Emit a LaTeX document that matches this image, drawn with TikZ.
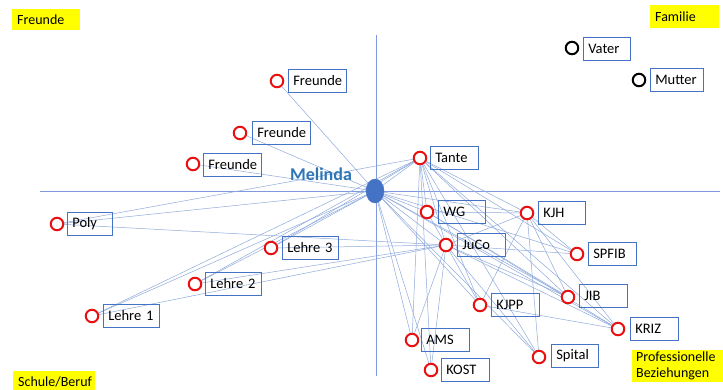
\documentclass[tikz,border=0pt]{standalone}
\usepackage{fontspec}
\setmainfont{Carlito}
\usetikzlibrary{backgrounds,shapes.geometric}
\definecolor{edgec}{RGB}{143,170,220}
\definecolor{boxc}{RGB}{68,114,196}
\definecolor{redc}{RGB}{232,16,16}
\definecolor{melc}{RGB}{68,114,196}
\definecolor{meltext}{RGB}{46,117,182}
\definecolor{tagc}{RGB}{255,255,0}
\begin{document}
\begin{tikzpicture}[x=1pt,y=-1pt,
  ring/.style={circle,draw=redc,line width=2pt,fill=white,minimum size=12.5pt,inner sep=0pt},
  bring/.style={ring,draw=black},
  box/.style={draw=boxc,line width=0.6pt,anchor=west,inner xsep=5pt,inner ysep=0pt,minimum height=23pt,text width=#1pt,align=left,font=\fontsize{14.5}{16}\selectfont},
  tag/.style={fill=tagc,inner xsep=5pt,inner ysep=3pt,text width=#1pt,align=left,font=\fontsize{14}{16}\selectfont},
  edge/.style={draw=edgec,line width=0.5pt},
  axis/.style={draw=edgec!90!blue,line width=0.8pt}]
\useasboundingbox (0,0) rectangle (723,389);
\clip (0,0) rectangle (723,389);

% quadrant labels
\node[tag=58,anchor=north west,minimum height=21pt] (tF) at (12,9) {Freunde};
\node[tag=59,anchor=north west,minimum height=23pt] (tFam) at (650,5) {Familie};
\node[tag=72,anchor=base west,inner ysep=5pt] (tS) at (13,386) {Schule/Beruf};
\node[tag=85,anchor=north west,inner ysep=2pt,inner xsep=4pt] (tP) at (632,350) {Professionelle\\Beziehungen};

% centre
\node[ellipse,fill=melc,draw=melc,minimum width=18pt,minimum height=24pt,inner sep=0pt] (mel) at (375,191) {};
\node[text=meltext,font=\fontsize{18}{20}\selectfont\bfseries] (melL) at (321,174) {Melinda};

% persons: ring + box
\node[ring] (f1) at (277,81) {};   \node[box=48] (bf1) at (288,81) {Freunde};
\node[ring] (f2) at (240,133) {};  \node[box=48] (bf2) at (252,133) {Freunde};
\node[ring] (f3) at (193,164) {};  \node[box=48] (bf3) at (203,164.5) {Freunde};
\node[ring] (ta) at (420,158) {};  \node[box=38] (bta) at (430,158) {Tante};
\node[bring] (va) at (572,48) {};  \node[box=37] (bva) at (583,49) {Vater};
\node[bring] (mu) at (639,80) {};  \node[box=43] (bmu) at (650,80) {Mutter};
\node[ring] (po) at (57,224) {};   \node[box=35] (bpo) at (67,224) {Poly};
\node[ring] (wg) at (427,212) {};  \node[box=37] (bwg) at (438,211.5) {WG};
\node[ring] (kjh) at (527,213) {}; \node[box=37] (bkjh) at (538,212.5) {KJH};
\node[ring] (ju) at (446,245) {};  \node[box=38] (bju) at (457,244.5) {JuCo};
\node[ring] (l3) at (271,248) {};  \node[box=46] (bl3) at (282,247.5) {Lehre 3};
\node[ring] (sp) at (577,254) {};  \node[box=38] (bsp) at (588,254) {SPFIB};
\node[ring] (l2) at (195,284) {};  \node[box=46] (bl2) at (205,283.5) {Lehre 2};
\node[ring] (ji) at (568,297) {};  \node[box=38] (bji) at (579,296) {JIB};
\node[ring] (kp) at (480,305) {};  \node[box=38] (bkp) at (491,305) {KJPP};
\node[ring] (l1) at (92,316) {};   \node[box=46] (bl1) at (103,315.5) {Lehre 1};
\node[ring] (kr) at (618,329) {};  \node[box=38] (bkr) at (630,328.5) {KRIZ};
\node[ring] (am) at (412,340) {};  \node[box=38] (bam) at (421,339.5) {AMS};
\node[ring] (spi) at (539,357) {}; \node[box=37] (bspi) at (551,355.5) {Spital};
\node[ring] (ko) at (431,370) {};  \node[box=38] (bko) at (441,370) {KOST};

\begin{scope}[on background layer]
  \fill[white] (0,0) rectangle (723,389);
  \draw[axis] (376,35) -- (376,376);
  \draw[axis] (40,191) -- (720,191);
  % Melinda
  \foreach \t in {f1,f2,f3,ta,po,l3,l2,l1,wg,ju,kjh,sp,ji,kp,kr,am,ko,spi}
    \draw[edge] (mel) -- (\t);
  % Tante
  \foreach \t in {po,l3,l2,l1,wg,ju,kjh,kp,ji,kr,am,ko,spi,sp}
    \draw[edge] (ta) -- (\t);
  % JuCo
  \foreach \t in {po,l3,l2,l1,wg,kjh,kp,ji,kr,am,ko,spi,sp}
    \draw[edge] (ju) -- (\t);
  % KJH
  \foreach \t in {wg,kp,sp,ji,kr,spi}
    \draw[edge] (kjh) -- (\t);
  % others
  \draw[edge] (kp) -- (kr);
  \draw[edge] (wg) -- (ji);
  \draw[edge] (wg) -- (kr);
\end{scope}
\end{tikzpicture}
\end{document}
